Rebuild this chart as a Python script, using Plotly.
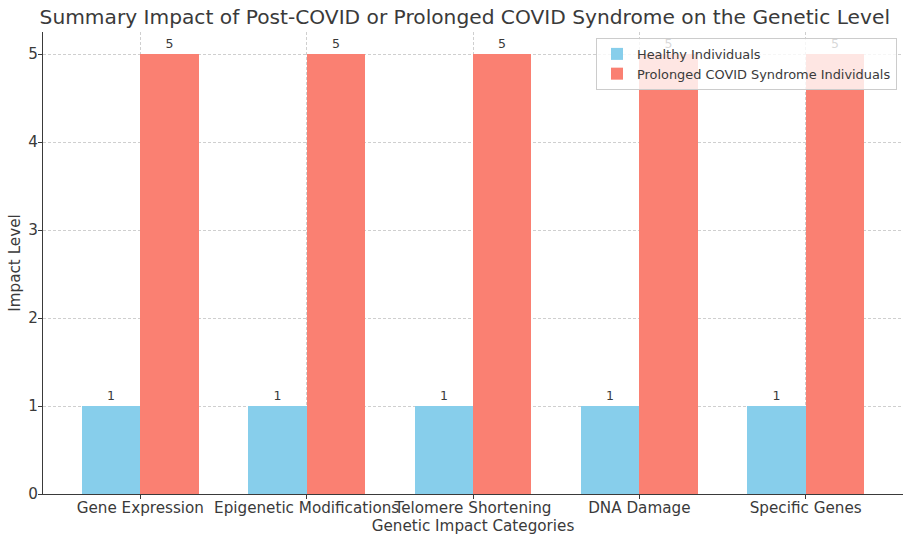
import plotly.graph_objects as go

categories = ["Gene Expression", "Epigenetic Modifications", "Telomere Shortening", "DNA Damage", "Specific Genes"]
healthy = [1, 1, 1, 1, 1]
prolonged = [5, 5, 5, 5, 5]
series_names = ["Healthy Individuals", "Prolonged COVID Syndrome Individuals"]
colors = ["#87CEEB", "#FA8072"]

width = 0.35
idx = list(range(len(categories)))
font = "DejaVu Sans, sans-serif"
dark = "#3a3a3a"

fig = go.Figure()
for vals, name, col, off in [(healthy, series_names[0], colors[0], -width / 2),
                             (prolonged, series_names[1], colors[1], width / 2)]:
    fig.add_trace(go.Bar(
        x=[i + off for i in idx], y=vals, width=width, name=name,
        marker=dict(color=col, line=dict(width=0)),
        text=[str(v) for v in vals], textposition="outside", cliponaxis=False,
        textfont=dict(family=font, size=12.5, color=dark),
    ))

fig.update_layout(
    width=915, height=544,
    margin=dict(l=43, r=12, t=32, b=50),
    paper_bgcolor="white", plot_bgcolor="white",
    barmode="overlay", bargap=0,
    font=dict(family=font, color=dark),
    title=dict(text="Summary Impact of Post-COVID or Prolonged COVID Syndrome on the Genetic Level",
               x=0.508, xanchor="center", y=0.969, yanchor="middle",
               font=dict(size=20.2, color=dark)),
    showlegend=True,
    legend=dict(x=0.993, xanchor="right", y=0.987, yanchor="top",
                bordercolor="#cccccc", borderwidth=1, bgcolor="rgba(255,255,255,0.8)",
                font=dict(size=12.9, color=dark), itemwidth=30, tracegroupgap=0),
    xaxis=dict(range=[-0.585, 4.585], tickmode="array", tickvals=idx, ticktext=categories,
               tickangle=0, automargin=False, ticklabelstandoff=-4,
               showline=True, linecolor=dark, linewidth=1.2, ticks="outside", ticklen=4,
               tickcolor=dark, tickfont=dict(size=15.2, color=dark),
               showgrid=True, gridcolor="#cfcfcf", griddash="3px,2px", gridwidth=0.8,
               zeroline=False,
               title=dict(text="Genetic Impact Categories", font=dict(size=15.2, color=dark), standoff=3)),
    yaxis=dict(range=[0, 5.25], tickvals=[0, 1, 2, 3, 4, 5], automargin=False,
               ticklabelstandoff=-3,
               showline=True, linecolor=dark, linewidth=1.2, ticks="outside", ticklen=4,
               tickcolor=dark, tickfont=dict(size=15.2, color=dark),
               showgrid=True, gridcolor="#cfcfcf", griddash="3px,2px", gridwidth=0.8,
               zeroline=False,
               title=dict(text="Impact Level", font=dict(size=15.2, color=dark), standoff=3)),
)

fig.write_html("out.html")
